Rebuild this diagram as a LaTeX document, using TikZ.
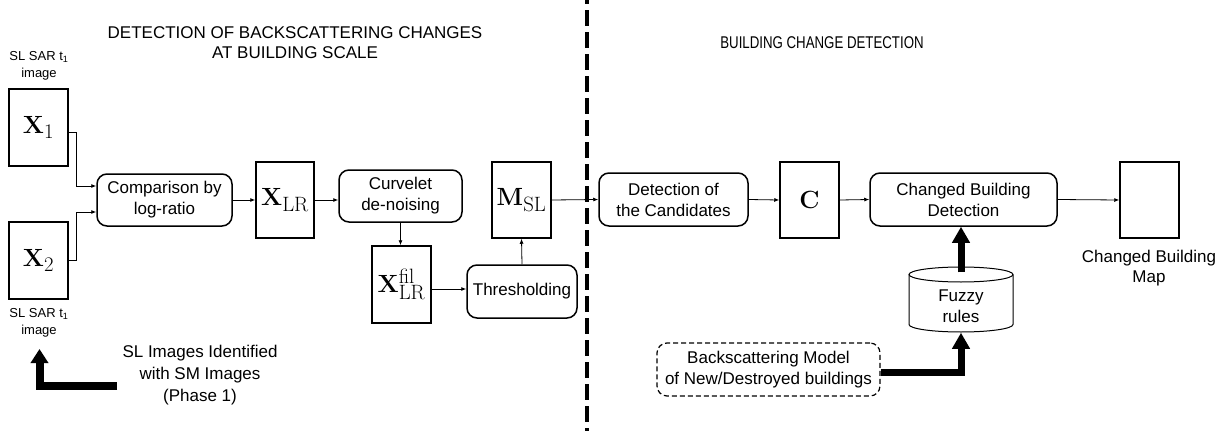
\documentclass[tikz,border=0pt]{standalone}
\usepackage[no-math]{fontspec}
\usetikzlibrary{arrows.meta,calc}
\newfontfamily\arial{Liberation Sans}
\tikzset{
  body/.style={font=\arial\fontsize{17}{21}\selectfont},
  small/.style={font=\arial\fontsize{13}{17}\selectfont},
  imgbox/.style={draw, line width=1.5pt, minimum width=59pt, minimum height=77pt, inner sep=0pt, font=\fontsize{24.88}{28}\selectfont},
  procbox/.style={draw, line width=1.5pt, rounded corners=10pt, align=center, inner sep=0pt, minimum height=53pt, body},
  conn/.style={line width=0.8pt, -{Latex[length=5pt,width=4pt]}},
  bigarrow/.style={line width=7pt, -{Triangle[length=16pt,width=17pt]}},
}
\begin{document}
\begin{tikzpicture}[x=1pt,y=-1pt]
\useasboundingbox (0,0) rectangle (1227,431);
% titles
\node[body, align=center, font=\arial\fontsize{17}{20}\selectfont] (t1) at (295,43) {DETECTION OF BACKSCATTERING CHANGES\\AT BUILDING SCALE};
\node[font=\arial\fontsize{17}{20}\selectfont] (t2) at (822,43) {\scalebox{0.78}[1]{BUILDING CHANGE DETECTION}};
% divider
\draw[line width=4pt, dash pattern=on 16pt off 6pt, dash phase=12pt] (587,0) coordinate (d1) -- (587,431) coordinate (d2);
% left part
\node[small, align=center] (l1) at (39,66) {SL SAR t\textsubscript{1}\\image};
\node[imgbox] (x1) at (38.5,127.5) {$\mathbf{X}_1$};
\node[imgbox] (x2) at (38.5,260.5) {$\mathbf{X}_2$};
\node[small, align=center] (l2) at (39,323) {SL SAR t\textsubscript{1}\\image};
\node[procbox, minimum width=135pt, minimum height=52pt] (cmp) at (164.5,200) {Comparison by\\log-ratio};
\node[imgbox, minimum width=58pt, minimum height=76pt] (xlr) at (285,200) {$\mathbf{X}_{\mathrm{LR}}$};
\node[procbox, minimum width=123pt, minimum height=52pt] (cur) at (400.5,196) {Curvelet\\de-noising};
\node[imgbox] (xfil) at (401.5,284.5) {$\mathbf{X}_{\mathrm{LR}}^{\mathrm{fil}}$};
\node[procbox, minimum width=110pt] (thr) at (522,291.5) {Thresholding};
\node[imgbox, minimum height=76pt] (msl) at (521.5,200) {$\mathbf{M}_{\mathrm{SL}}$};
\node[body, align=center, font=\arial\fontsize{17}{22}\selectfont] (ph) at (200,375) {SL Images Identified\\with SM Images\\(Phase 1)};
\coordinate (pa) at (117,386);
\coordinate (pb) at (39.5,349);
% right part
\node[procbox, minimum width=149pt] (det) at (673.5,199.5) {Detection of\\the Candidates};
\node[imgbox, minimum height=76pt] (cc) at (809.5,200) {$\mathbf{C}$};
\node[procbox, minimum width=187pt] (cbd) at (963.5,199.5) {Changed Building\\Detection};
\node[imgbox, minimum height=76pt] (map) at (1149.5,200) {};
\node[body, align=center, font=\arial\fontsize{17}{20}\selectfont] (ml) at (1149,268) {Changed Building\\Map};
\node[procbox, draw=none, minimum width=104pt, minimum height=51pt] (fz) at (961,306.5) {Fuzzy\\rules};
\draw[line width=1pt] (961,274.5) ellipse [x radius=52pt, y radius=7.5pt];
\draw[line width=1pt] (909,274.5) -- (909,324.5) arc[start angle=180, end angle=360, x radius=52pt, y radius=7.5pt] -- (1013,274.5);
\node[procbox, dash pattern=on 5pt off 3pt, line width=1.2pt, minimum width=223pt] (bm) at (768.5,369.5) {Backscattering Model\\of New/Destroyed buildings};
% connectors
\draw[conn] ([yshift=-4.5pt]x1.east) -- ++(8,0) |- ([yshift=14pt]cmp.west);
\draw[conn] (x2.east) -- ++(8,0) |- ([yshift=-12pt]cmp.west);
\draw[conn] (cmp.east) -- (xlr.west);
\draw[conn] (xlr.east) -- (cur.west |- xlr.east);
\draw[conn] (cur.south) -- (cur.south |- xfil.north);
\draw[conn] ([yshift=-4.5pt]xfil.east) -- ([yshift=2.5pt]thr.west);
\draw[conn] (thr.north) -- (msl.south);
\draw[conn] (msl.east) -- (det.west);
\draw[conn] (det.east) -- (cc.west);
\draw[conn] (cc.east) -- (cbd.west);
\draw[conn] (cbd.east) -- (map.west);
\draw[bigarrow] ([yshift=8pt]fz.north) -- (fz.north |- cbd.south);
\draw[bigarrow] ([yshift=-2.5pt]bm.east) -| (fz.south);
\draw[line width=8pt, -{Triangle[length=14pt,width=17pt]}] (pa) -| (pb);
\end{tikzpicture}
\end{document}
